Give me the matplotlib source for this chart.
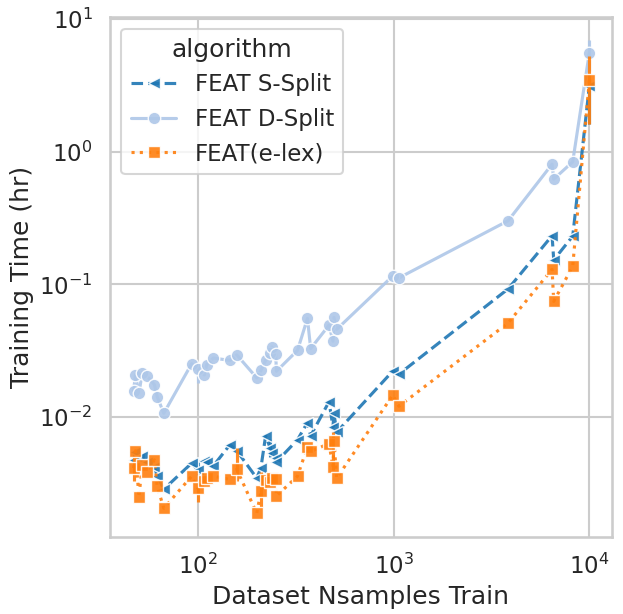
#!/usr/bin/env python3

import matplotlib

matplotlib.use('Agg')
import matplotlib.pyplot as plt
import seaborn as sns


# dataset sizes (training samples) shared by every algorithm
N_SAMPLES = [47, 48, 50, 52, 55, 60, 62, 67,
             93, 100, 108, 111, 120,
             146, 158,
             200, 210, 222, 234, 239, 250, 252,
             323, 363, 377,
             468, 490, 496, 512,
             991, 1064,
             3846,
             6450, 6577, 8222,
             10000]

# training time in hours
S_SPLIT = [0.00478, 0.0055, 0.00496, 0.00507, 0.00461, 0.0042, 0.00362, 0.00287,
           0.00451, 0.0040, 0.00472, 0.00461, 0.0043,
           0.00622, 0.0056,
           0.00348, 0.00416, 0.00725, 0.0059, 0.0054, 0.00496, 0.00461,
           0.00677, 0.00912, 0.00725,
           0.0131, 0.00843, 0.0107, 0.00772,
           0.0223, 0.0211,
           0.0926,
           0.233, 0.153, 0.231,
           3.13]

D_SPLIT = [0.0159, 0.0209, 0.0151, 0.0216, 0.0204, 0.0176, 0.0143, 0.0107,
           0.0253, 0.0229, 0.0208, 0.0249, 0.0279,
           0.0268, 0.0295,
           0.0198, 0.0225, 0.0268, 0.0305, 0.0338, 0.0298, 0.0222,
           0.0319, 0.0555, 0.0329,
           0.0494, 0.0374, 0.0565, 0.0459,
           0.116, 0.112,
           0.302,
           0.805, 0.621, 0.839,
           5.57]

E_LEX = [0.00414, 0.0056, 0.0025, 0.00438, 0.0039, 0.00478, 0.00303, 0.00206,
         0.0036, 0.00292, 0.00333, 0.00349, 0.0036,
         0.0034, 0.00406,
         0.00189, 0.00276, 0.00337, 0.00327, 0.00349, 0.0034, 0.00255,
         0.0036, 0.00598, 0.00553,
         0.00633, 0.0042, 0.00658, 0.00347,
         0.0147, 0.0121,
         0.0513,
         0.130, 0.0746, 0.137,
         3.45]

# confidence interval bars where several datasets share a size
S_SPLIT_ERR_X = [100, 234, 10000]
S_SPLIT_ERR_LO = [0.0033, 0.0050, 1.62]
S_SPLIT_ERR_HI = [0.0048, 0.0069, 3.55]

D_SPLIT_ERR_X = [100, 10000]
D_SPLIT_ERR_LO = [0.0180, 4.05]
D_SPLIT_ERR_HI = [0.0253, 6.95]

E_LEX_ERR_X = [47, 100, 158, 210, 490, 10000]
E_LEX_ERR_LO = [0.0033, 0.0023, 0.0033, 0.0021, 0.0040, 1.62]
E_LEX_ERR_HI = [0.0050, 0.0033, 0.0059, 0.0039, 0.0077, 5.25]

SERIES = [
    ('FEAT S-Split', S_SPLIT, '#1f77b4', '--', '<',
     S_SPLIT_ERR_X, S_SPLIT_ERR_LO, S_SPLIT_ERR_HI),
    ('FEAT D-Split', D_SPLIT, '#aec7e8', '-', 'o',
     D_SPLIT_ERR_X, D_SPLIT_ERR_LO, D_SPLIT_ERR_HI),
    ('FEAT(e-lex)', E_LEX, '#ff7f0e', ':', 's',
     E_LEX_ERR_X, E_LEX_ERR_LO, E_LEX_ERR_HI),
]


def main():
    sns.set_theme(style='whitegrid', context='talk')

    fig = plt.figure(figsize=(6.23, 6.14), dpi=100)
    ax = fig.add_axes([0.1766, 0.1259, 0.8052, 0.8459])

    for name, values, color, style, marker, ex, lo, hi in SERIES:
        ax.vlines(ex, lo, hi, color=color, linewidth=2.25, alpha=0.9)
        ax.plot(N_SAMPLES, values, linestyle=style, marker=marker,
                color=color, markersize=9, markeredgecolor='white',
                markeredgewidth=1.0, linewidth=2.25, alpha=0.9, label=name)

    ax.set_xscale('log')
    ax.set_yscale('log')
    ax.set_xlim(35.6, 13000)
    ax.set_ylim(1.26e-3, 10.28)
    ax.minorticks_off()
    ax.set_xlabel('Dataset Nsamples Train')
    ax.set_ylabel('Training Time (hr)')
    ax.legend(title='algorithm', loc='upper left')

    fig.savefig('out.png', dpi=100)
    plt.close(fig)
    return 0


if __name__ == '__main__':
    raise SystemExit(main())
